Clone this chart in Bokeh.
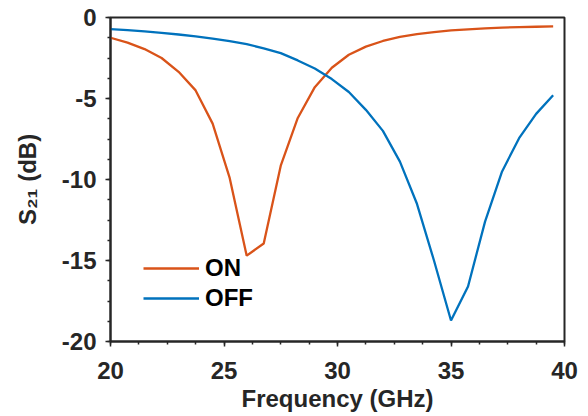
from bokeh.plotting import figure
from bokeh.models import FixedTicker, Legend, LegendItem, Range1d, CustomJSTickFormatter
from bokeh.embed import file_html
from bokeh.resources import INLINE

freq = [20, 20.75, 21.5, 22.25, 23, 23.75, 24.5, 25.25, 26, 26.75, 27.5, 28.25, 29,
        29.75, 30.5, 31.25, 32, 32.75, 33.5, 34.25, 35, 35.75, 36.5, 37.25, 38, 38.75, 39.5]
s21_on = [-1.25, -1.55, -1.95, -2.5, -3.35, -4.5, -6.55, -9.9, -14.7, -13.95, -9.15, -6.2, -4.3,
          -3.1, -2.3, -1.8, -1.45, -1.2, -1.02, -0.9, -0.8, -0.73, -0.67, -0.62, -0.59, -0.57, -0.55]
s21_off = [-0.72, -0.78, -0.86, -0.95, -1.05, -1.17, -1.3, -1.46, -1.65, -1.9, -2.2, -2.65, -3.15,
           -3.8, -4.6, -5.7, -7.0, -8.9, -11.5, -15.0, -18.7, -16.6, -12.6, -9.5, -7.45, -5.95, -4.8]
x_ticks = [20, 25, 30, 35, 40]
y_ticks = [-20, -15, -10, -5, 0]
series_names = ["ON", "OFF"]

FONT = "Liberation Sans"
TXT = "#262626"
H = 416

p = figure(width=580, height=H, output_backend="svg", toolbar_location=None,
           x_range=Range1d(20, 40), y_range=Range1d(-20, 0),
           min_border_left=110, min_border_right=16, min_border_top=17,
           min_border_bottom=H - 341)
p.grid.visible = False
p.outline_line_color = TXT
p.outline_line_width = 2
p.background_fill_color = "white"
p.border_fill_color = "white"

r_on = p.line(freq, s21_on, line_color="#D95319", line_width=2.3)
r_off = p.line(freq, s21_off, line_color="#0072BD", line_width=2.3)

for ax in (p.xaxis[0], p.yaxis[0]):
    ax.axis_line_color = TXT
    ax.axis_line_width = 2
    ax.major_tick_line_color = TXT
    ax.minor_tick_line_color = TXT
    ax.major_tick_line_width = 1.5
    ax.minor_tick_line_width = 1.5
    ax.major_tick_in = 0
    ax.major_tick_out = 5
    ax.minor_tick_in = 0
    ax.minor_tick_out = 3
    ax.major_label_text_font = FONT
    ax.major_label_text_font_style = "bold"
    ax.major_label_text_font_size = "24px"
    ax.major_label_text_color = TXT
    ax.axis_label_text_font = FONT
    ax.axis_label_text_font_style = "bold"
    ax.axis_label_text_font_size = "24px"
    ax.axis_label_text_color = TXT
    ax.formatter = CustomJSTickFormatter(code="return tick.toString();")

p.xaxis.ticker = FixedTicker(ticks=x_ticks, minor_ticks=[20 + 1.25 * i for i in range(17)])
p.yaxis.ticker = FixedTicker(ticks=y_ticks, minor_ticks=[-20 + 1.25 * i for i in range(17)])
p.xaxis.major_label_standoff = 15
p.yaxis.major_label_standoff = 9

p.xaxis.axis_label = "Frequency (GHz)"
p.xaxis.axis_label_standoff = 3
p.yaxis.axis_label = "S\u2082\u2081 (dB)"
p.yaxis.axis_label_standoff = 18

legend = Legend(items=[LegendItem(label=series_names[0], renderers=[r_on]),
                       LegendItem(label=series_names[1], renderers=[r_off])],
                location=(33, 28), background_fill_alpha=0, border_line_alpha=0,
                padding=0, margin=0, spacing=0, glyph_width=56, glyph_height=30,
                label_height=30, label_standoff=6, label_text_font=FONT,
                label_text_font_style="bold", label_text_font_size="24px",
                label_text_color="black")
p.add_layout(legend)

open("out.html", "w").write(file_html(p, INLINE))
